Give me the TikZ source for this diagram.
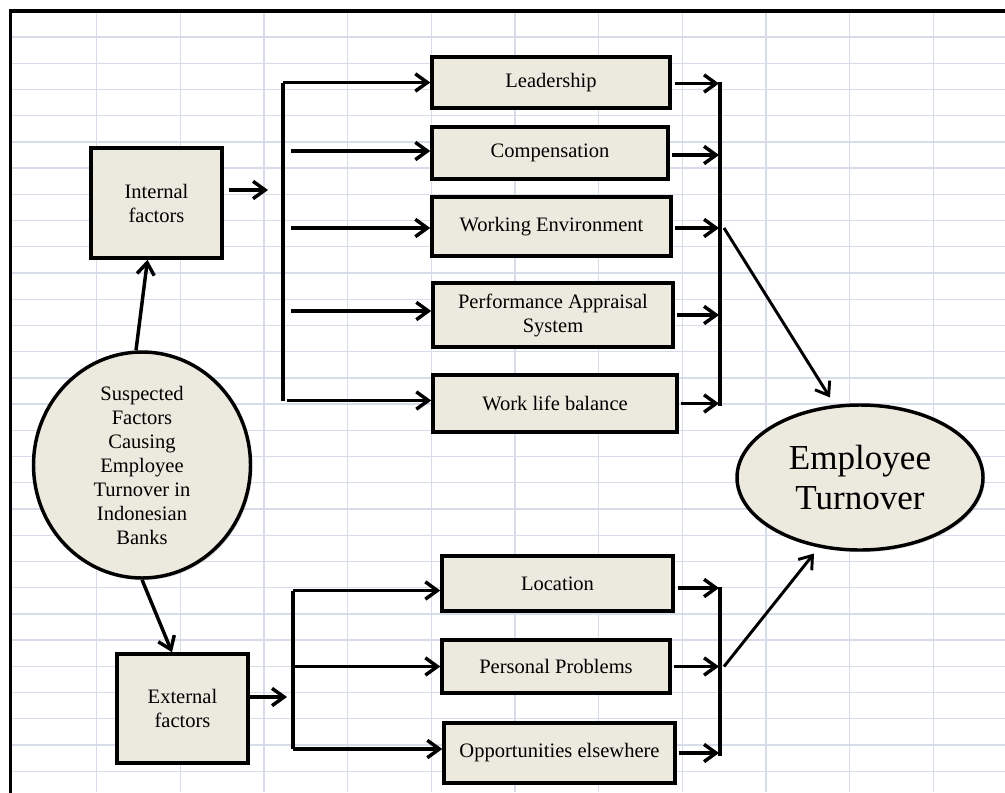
\documentclass[tikz,border=0pt]{standalone}
\usepackage{fontspec}
\setmainfont{Liberation Serif}
\usetikzlibrary{arrows.meta,shapes.geometric,calc,shadows}
\definecolor{boxfill}{RGB}{236,234,222}
\definecolor{gridc}{RGB}{214,220,232}
\begin{document}
\begin{tikzpicture}[x=0.75pt,y=-0.75pt,
  box/.style={draw, line width=2.6pt, fill=boxfill, inner sep=0pt, align=center,
    font=\fontsize{15.4}{18}\selectfont,
    drop shadow={shadow xshift=1.5pt, shadow yshift=-1.5pt, opacity=0.25, fill=gray}},
  sz/.style 2 args={minimum width=#1*0.75pt, minimum height=#2*0.75pt},
  arr/.style={line width=2.6pt, -{Straight Barb[length=9pt,width=13pt]}},
  thinarr/.style={line width=2.2pt, -{Straight Barb[length=9pt,width=13pt]}},
  ln/.style={line width=2.6pt},
  gridline/.style={draw=gridc, line width=1pt}]
\clip (0,0) rectangle (1005,792);
\fill[white] (0,0) rectangle (1005,792);
% spreadsheet grid
\foreach \k in {0,...,11} \draw[gridline] ({96.5+83.7*\k},12) -- ({96.5+83.7*\k},792);
\foreach \k in {0,...,29} \draw[gridline] (12,{37+26.22*\k}) -- (1005,{37+26.22*\k});
% frame
\draw[line width=2.4pt] (10.5,11) rectangle (1030,820);

% nodes
\node[box, ellipse, sz={217}{226}] (susp) at (142,465)
  {Suspected\\Factors\\Causing\\Employee\\Turnover in\\Indonesian\\Banks};
\node[box, sz={131}{110}] (int) at (156.5,203) {Internal\\factors};
\node[box, sz={131}{109}] (ext) at (182.5,708.5) {External\\factors};
\node[box, sz={238}{51}] (lead) at (551,82.5) {Leadership};
\node[box, sz={236}{52}] (comp) at (550,153) {Compensation};
\node[box, sz={239}{59}] (work) at (551.5,226.5) {Working Environment};
\node[box, sz={240}{64}] (perf) at (553,315) {Performance Appraisal\\System};
\node[box, sz={244}{57}] (wlb) at (555,403.5) {Work life balance};
\node[box, sz={231}{55}] (loc) at (557.5,583.5) {Location};
\node[box, sz={228}{53}] (pers) at (556,666.5) {Personal Problems};
\node[box, sz={231}{60}] (opp) at (559.5,753) {Opportunities elsewhere};
\node[box, ellipse, sz={246}{145}, font=\fontsize{26.3}{29.3}\selectfont] (et) at (860,477.5)
  {Employee\\Turnover};

% coordinates for bracket lines
\coordinate (ia) at (268,190);
\coordinate (ibt) at (283,82.5);
\coordinate (ibb) at (283,401);
\coordinate (ibs) at (291,0);
\coordinate (rbt) at (720,82);
\coordinate (rbb) at (720,406);
\coordinate (rb) at (719,0);
\coordinate (rd) at (724,0);
\coordinate (ea) at (287,697);
\coordinate (ebt) at (293,590.5);
\coordinate (ebb) at (293,749);
\coordinate (rlt) at (720,587);
\coordinate (rlb) at (720,756);

% circle to factor boxes
\draw[arr] ($(susp.north)+(-6,0)$) -- ($(int.south)+(-9,0)$);
\draw[arr] (susp.south) -- ($(ext.north)+(-10.5,0)$);

% internal branch
\draw[arr] ($(int.east)+(5,-13)$) -- (ia);
\draw[ln] (ibb) -- (ibt);
\draw[arr] (ibt) -- (lead.west);
\draw[arr] ($(comp.west -| ibs)+(0,-2)$) -- ($(comp.west)+(0,-2)$);
\draw[arr] ($(work.west -| ibs)+(0,1.5)$) -- ($(work.west)+(0,1.5)$);
\draw[arr] ($(perf.west -| ibs)+(0,-4)$) -- ($(perf.west)+(0,-4)$);
\draw[arr] ($(wlb.west -| ibb)+(4,-3)$) -- ($(wlb.west)+(0,-3)$);

% internal to turnover
\draw[arr] ($(lead.east)+(3,1)$) -- ($(lead.east -| rb)+(0,1)$);
\draw[arr] ($(comp.east)+(2,2)$) -- ($(comp.east -| rb)+(0,2)$);
\draw[arr] ($(work.east)+(2,1.5)$) -- ($(work.east -| rb)+(0,1.5)$);
\draw[arr] ($(perf.east)+(2,0)$) -- (perf.east -| rb);
\draw[arr] ($(wlb.east)+(2,0)$) -- (wlb.east -| rb);
\draw[ln] (rbt) -- (rbb);
\draw[thinarr] ($(work.east -| rd)+(0,1.5)$) -- ($(et.center)+(-30,-80)$);

% external branch
\draw[arr] ($(ext.east)+(0,-11.5)$) -- (ea);
\draw[ln] (ebt) -- (ebb);
\draw[arr] (ebt) -- ($(loc.west)+(0,7)$);
\draw[arr] (pers.west -| ebt) -- (pers.west);
\draw[arr] ($(opp.west -| ebt)+(0,-4)$) -- ($(opp.west)+(0,-4)$);

% external to turnover
\draw[arr] ($(loc.east)+(3,4.5)$) -- ($(loc.east -| rb)+(0,4.5)$);
\draw[arr] ($(pers.east)+(2,0)$) -- (pers.east -| rb);
\draw[arr] ($(opp.east)+(2,0)$) -- (opp.east -| rb);
\draw[ln] (rlt) -- (rlb);
\draw[thinarr] (pers.east -| rd) -- ($(et.center)+(-46,76)$);
\end{tikzpicture}
\end{document}
